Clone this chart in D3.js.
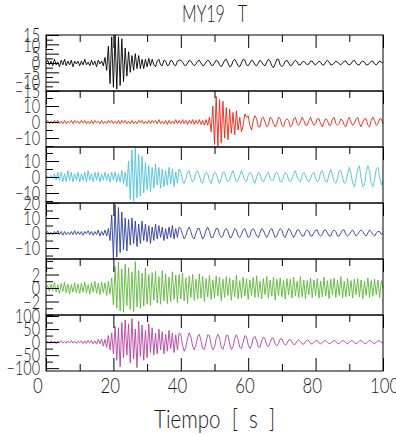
<!DOCTYPE html>
<html>
<head>
<meta charset="utf-8">
<script src="https://cdn.jsdelivr.net/npm/d3@7"></script>
<style>
body { margin: 0; background: #fff; }
text { font-family: Lato, "DejaVu Sans", sans-serif; font-weight: 300; fill: #1a1a1a; }
</style>
</head>
<body>
<svg width="396" height="435"></svg>
<script>
// sample interval of the traces (s)
var dt = 0.5;

var title = "MY19   T";
var xLabel = "Tiempo  [  s  ]";
var xTicks = [0, 20, 40, 60, 80, 100];

// amplitude of each trace, one value every 0.5 s from 0 to 100 s
var sismo1 = [
  0, 1.5, -1, 1, -1.5, 2, -1, 0.5, -2, 1.5, -1, 2, -1.5, 1, -1, 1.5, -2, 1, -0.5, 1,
  -1.5, 1, -1, 2, -1, 0.5, -1.5, 1.5, -1, 1, -2, 1.5, -0.5, 1, -1.5, 3, -4, 9, -11, 14,
  -13, 15, -14, 14, -12, 13, -10, 8, -7, 6, -5, 4, -4, 5, -3, 4, -3, 2, -3, 2,
  -2, 2.5, -1.5, 2, -1, -2, 1, 2, -1, -1.5, 1.5, 1, -1.5, -1, 1.5, 1, -1, -1.5, 1, 1.5,
  1.5, 0.5, -1, -1.5, 0, 1.5, 1, -0.5, -1.5, -0.5, 1, 1.5, 0, -1.5, -1, 0.5, 1.5, 1, -1, -1.5,
  0, 1.5, 1, -1, -2, -0.5, 1.5, 2, 0, -2, -1.5, 1, 2, 0.5, -1.5, -2, 0, 2, 1.5, -1,
  -1.5, 0, 1.5, 1, -1, -1.5, 0, 1.5, 0.5, -1, -1.5, 0.5, 2, 1, -1.5, -2.5, -0.5, 2, 2, -1,
  -2, -1, 1, 1.5, 0, -1.5, -1, 0.5, 1.5, 0.5, -1, -1, 0.5, 1, 0, -1, -0.5, 1, 1, -0.5,
  -1, 0, 1, 0.5, -1, -1, 0.5, 1.5, 0.5, -1, -1, 0, 1, 0.5, -0.5, -1, 0, 1, 1, -0.5,
  -1, -0.5, 1, 1.5, 0, -1, -1, 0.5, 1, 0.5, -1, -1, 0, 1, 1, -0.5, -1, 0, 1, 0.5,
  0
];
var sismo2 = [
  0, 1, -1, 0.5, -1, 1, -0.5, 1, -1, 0.5, -1, 1, -1, 0.5, -0.5, 1, -1, 1, -0.5, 0.5,
  -1, 1, -0.5, 1, -1, 0.5, -1, 1, -1, 1, -0.5, 0.5, -1, 1, -1, 0.5, -1, 1, -0.5, 1,
  -1, 0.5, -1, 1, -1, 1, -0.5, 1, -1, 0.5, -1, 1, -1, 0.5, -1, 1, -0.5, 1, -1, 0.5,
  -1, 1, -1, 1, -0.5, 1, -1, 1.5, -1, 0.5, -1, 1, -1.5, 1, -1, 0.5, -1, 1.5, -1, 1,
  -1, 1.5, -1, 1, -1.5, 1, -1, 1.5, -1.5, 1, -1, 1.5, -1.5, 1, -2, 1.5, -2, 3, -6, 10,
  -14, 16, -15, 14, -13, 13, -10, 9, -11, 8, -7, 6, -8, 7, -5, 3, -6, -2, 5, 3,
  4, -2, -5, 1, 4, 2, -3, -3, 2, 3, 0, -3, -2, 3, 2, -1, -3, -1, 3, 2,
  -2, -3, 1, 2, 1, -3, -2, 2, 3, -1, -2, 0, 3, 1, -2, -2, 1, 3, 0, -2,
  -1, 2, 2, -1, -3, 0, 2, 1, -2, -2, 2, 3, -1, -2, -1, 2, 1, -2, -3, 1,
  3, 0, -2, -1, 2, 3, -1, -3, 0, 2, 2, -2, -3, 1, 3, 1, -2, -1, 2, 2,
  -1
];
var sismo3 = [
  0, 0.5, -0.5, 1, -1, 2, -2, 3, -2, 3, -3, 2, -3, 4, -2, 3, -3, 2, -2, 3,
  -3, 2, -2, 3, -3, 4, -2, 2, -3, 3, -2, 3, -3, 2, -2, 3, -2, 2, -3, 3,
  -2, 3, -3, 2, -3, 4, -4, 3, -6, 10, -14, 17, -15, 18, -13, 14, -12, 13, -10, 9,
  -8, 7, -9, 6, -7, 8, -5, 6, -7, 5, -6, 4, -5, 6, -4, 5, -6, 3, -4, 5,
  3, -2, -4, -1, 3, 4, -1, -3, -2, 3, 4, 1, -3, -4, 1, 3, 2, -2, -4, 0,
  3, 2, -1, -4, -1, 3, 3, -1, -3, -2, 2, 4, 0, -3, -2, 1, 4, 1, -2, -3,
  1, 3, 2, -2, -4, 0, 3, 2, -2, -3, -1, 2, 3, -1, -2, -2, 2, 3, 1, -3,
  -3, 0, 3, 2, -2, -3, -1, 2, 4, 0, -2, -3, 1, 3, 1, -2, -3, -1, 2, 3,
  -1, -3, -2, 3, 4, 0, -3, -3, 2, 5, 1, -3, -4, -1, 4, 4, 0, -4, -3, 2,
  6, 2, -4, -6, -1, 5, 7, -1, -6, -5, 3, 7, 4, -4, -6, -2, 5, 6, 0, -5,
  -3
];
var sismo4 = [
  0, 1, -1, 0.5, -1, 1, -0.5, 1.5, -1, 1, -1.5, 1, -1, 0.5, -1, 1, -1, 1.5, -1, 1,
  -1, 1, -1.5, 1, -0.5, 1.5, -1, 1, -1.5, 1, -1, 2, -2, 1, -1.5, 2, -2, 3, -5, 12,
  -17, 19, -16, 17, -13, 14, -11, 10, -12, 9, -8, 10, -7, 8, -9, 6, -7, 8, -5, 6,
  -6, 5, -7, 4, -5, 6, -4, 5, -3, 4, -5, 3, -4, 4, -3, 5, -4, 3, -3, 4,
  3, -1, -4, -2, 2, 4, 1, -3, -4, 0, 3, 3, -1, -4, -2, 2, 4, 1, -3, -3,
  0, 3, 3, -1, -3, -2, 2, 3, 1, -3, -3, 0, 3, 2, -2, -3, -1, 2, 3, 0,
  -3, -2, 2, 3, 1, -2, -3, 0, 3, 2, -1, -3, -1, 2, 3, 0, -3, -2, 1, 3,
  2, -2, -3, 0, 3, 2, -1, -3, -1, 2, 2, 0, -2, -2, 1, 2, 1, -2, -2, 0,
  2, 2, -1, -2, -1, 2, 2, 0, -2, -2, 1, 2, 1, -2, -2, 0, 2, 2, -1, -2,
  -1, 1, 2, 0, -2, -1, 1, 2, 1, -1, -2, 0, 2, 1, -1, -2, 0, 1, 1, -1,
  0
];
var sismo5 = [
  0, 0.4, -0.5, 0.6, -0.4, 0.8, -0.6, 0.5, -0.8, 0.7, -0.5, 0.9, -0.7, 0.6, -0.9, 0.5, -0.6, 0.8, -0.7, 0.6,
  -0.8, 0.7, -0.6, 0.9, -0.7, 0.5, -0.9, 0.8, -0.6, 1.0, -0.8, 0.7, -1.0, 0.9, -0.7, 0.8, -1.1, 1.0, -0.9, 1.5,
  -2.5, 3.2, -3.0, 3.8, -3.4, 2.8, -3.6, 3.5, -2.6, 3.0, -3.2, 2.4, -3.5, 3.9, -2.8, 2.6, -3.0, 2.2, -2.7, 3.0,
  -2.4, 2.0, -2.6, 2.3, -1.8, 2.5, -2.2, 1.7, -2.4, 2.6, -1.9, 2.1, -2.3, 1.6, -2.0, 2.4, -1.7, 1.9, -2.2, 2.0,
  -1.6, 2.2, -1.9, 1.5, -2.3, 1.8, -1.4, 2.0, -1.8, 1.3, -1.6, 2.1, -1.5, 1.7, -2.0, 1.4, -1.3, 1.9, -1.7, 1.2,
  -1.5, 1.8, -1.2, 1.6, -1.9, 1.3, -1.4, 1.7, -1.1, 1.5, -1.8, 1.2, -1.3, 1.9, -1.6, 1.1, -1.5, 1.6, -1.2, 1.4,
  -1.7, 1.2, -1.1, 1.5, -1.4, 1.8, -1.3, 1.0, -1.6, 1.4, -1.0, 1.7, -1.5, 1.2, -1.2, 1.6, -1.8, 1.3, -1.1, 1.5,
  -1.3, 1.1, -1.6, 1.4, -1.0, 1.3, -1.5, 1.6, -1.2, 1.0, -1.4, 1.7, -1.3, 1.2, -1.6, 1.1, -1.0, 1.5, -1.4, 1.2,
  -1.1, 1.4, -1.5, 1.0, -1.3, 1.6, -1.2, 1.1, -1.6, 1.3, -1.0, 1.5, -1.4, 1.2, -1.1, 1.7, -1.5, 1.0, -1.3, 1.4,
  -1.2, 1.1, -1.5, 1.3, -1.0, 1.4, -1.3, 1.2, -1.6, 1.0, -1.1, 1.5, -1.4, 1.1, -1.2, 1.3, -1.0, 1.2, -1.4, 1.1,
  0
];
var sismo6 = [
  0, 3, -4, 5, -3, 4, -5, 3, -2, 5, -4, 3, -5, 4, -3, 6, -4, 3, -5, 4,
  -3, 5, -6, 4, -5, 7, -4, 6, -7, 5, -8, 10, -6, 12, -15, 10, -20, 25, -30, 35,
  -45, 60, -70, 55, -95, 75, -60, 85, -50, 70, -80, 90, -65, 50, -98, 80, -55, 65, -70, 45,
  -60, 70, -40, 55, -50, 35, -45, 50, -30, 40, -45, 30, -35, 45, -25, 35, -40, 28, -30, 35,
  30, -10, -35, -20, 15, 35, 20, -15, -30, -10, 20, 30, 5, -25, -28, 0, 28, 25, -10, -30,
  -20, 15, 30, 15, -20, -28, -5, 25, 25, -5, -28, -18, 15, 28, 10, -20, -25, 0, 25, 20,
  -10, -25, -12, 15, 22, 5, -18, -20, 5, 20, 12, -12, -18, -2, 15, 14, -8, -15, -5, 12,
  12, -4, -12, -6, 8, 10, 0, -10, -8, 4, 9, 3, -7, -8, 2, 8, 5, -5, -8, -1,
  6, 6, -3, -7, -2, 5, 6, -1, -6, -4, 3, 6, 2, -5, -5, 1, 6, 4, -3, -6,
  -1, 5, 5, -2, -6, -3, 4, 6, 1, -5, -5, 1, 6, 4, -3, -6, -1, 5, 5, -2,
  -3
];

// y tick labels of each panel
var yLabels1 = [15, 10, 5, 0, -5, -10, -15];
var yLabels2 = [10, 0, -10];
var yLabels3 = [10, 0, -10];
var yLabels4 = [20, 10, 0, -10];
var yLabels5 = [2, 0, -2];
var yLabels6 = [100, 50, 0, -50, -100];

var panels = [
  {data: sismo1, color: "#000000", domain: [-15, 15], labels: yLabels1, minor: 2.5},
  {data: sismo2, color: "#ec2211", domain: [-15.6, 19.4], labels: yLabels2, minor: 5},
  {data: sismo3, color: "#4cc2d8", domain: [-16.25, 18.75], labels: yLabels3, minor: 5},
  {data: sismo4, color: "#2e3f9c", domain: [-17.3, 20], labels: yLabels4, minor: 5},
  {data: sismo5, color: "#5eb83a", domain: [-4, 4.3], labels: yLabels5, minor: 1},
  {data: sismo6, color: "#b4429e", domain: [-111, 104], labels: yLabels6, minor: 25}
];

var svg = d3.select("svg"),
    margin = {top: 35, right: 13, bottom: 64, left: 46},
    width = 396 - margin.left - margin.right,
    height = 435 - margin.top - margin.bottom,
    panelH = height / panels.length,
    g = svg.append("g").attr("transform", "translate(" + margin.left + "," + margin.top + ")");

var x = d3.scaleLinear().domain([0, 100]).range([0, width]);

var xMinor = [10, 30, 50, 70, 90];
var squeeze = 0.72;  // the labels use a tall, narrow lettering

function fmt(d) { return d < 0 ? "\u2212" + (-d) : "" + d; }

panels.forEach(function(p, i) {
    var y = d3.scaleLinear().domain(p.domain).range([panelH, 0]);
    var pg = g.append("g").attr("transform", "translate(0," + (i * panelH) + ")");

    var line = d3.line()
        .x(function(d, k) { return x(k * dt); })
        .y(function(d) { return y(d); });

    pg.append("path")
        .datum(p.data)
        .attr("fill", "none")
        .attr("stroke", p.color)
        .attr("stroke-width", 0.9)
        .attr("stroke-linejoin", "round")
        .attr("d", line);

    // minor y ticks
    var minorTicks = d3.range(Math.ceil(p.domain[0] / p.minor) * p.minor, p.domain[1] + 1e-9, p.minor)
        .filter(function(v) { return p.labels.indexOf(v) < 0; });
    pg.append("g")
        .call(d3.axisRight(y).tickValues(minorTicks).tickSize(7).tickFormat(""));
    pg.append("g")
        .call(d3.axisRight(y).tickValues(p.labels).tickSize(13).tickFormat(""));

    // top ticks of the panel
    pg.append("g")
        .call(d3.axisBottom(x).tickValues(xMinor).tickSize(7).tickFormat(""));
    pg.append("g")
        .call(d3.axisBottom(x).tickValues(xTicks).tickSize(13).tickFormat(""));

    if (i == panels.length - 1) {
        pg.append("g")
            .attr("transform", "translate(0," + panelH + ")")
            .call(d3.axisTop(x).tickValues(xMinor).tickSize(7).tickFormat(""));
        pg.append("g")
            .attr("transform", "translate(0," + panelH + ")")
            .call(d3.axisTop(x).tickValues(xTicks).tickSize(13).tickFormat(""));
    }

    pg.append("rect")
        .attr("width", width)
        .attr("height", panelH)
        .attr("fill", "none")
        .attr("stroke", "#000")
        .attr("stroke-width", 1);

    pg.selectAll(".ylab")
        .data(p.labels)
        .enter().append("text")
        .attr("class", "ylab")
        .attr("transform", function(d) { return "translate(-6," + y(d) + ") scale(" + squeeze + ",1)"; })
        .attr("dy", "0.36em")
        .attr("text-anchor", "end")
        .style("font-size", "20px")
        .text(fmt);
});

g.selectAll(".domain").remove();
g.selectAll(".tick line").attr("stroke", "#000");

// x tick labels
g.selectAll(".xlab")
    .data(xTicks)
    .enter().append("text")
    .attr("class", "xlab")
    .attr("transform", function(d) { return "translate(" + (x(d) - 13) + "," + (height + 22) + ") scale(0.8,1)"; })
    .style("font-size", "21px")
    .text(fmt);

// title and axis label
svg.append("text")
    .attr("x", 182)
    .attr("y", 22)
    .attr("textLength", 65)
    .attr("lengthAdjust", "spacingAndGlyphs")
    .attr("xml:space", "preserve")
    .style("font-size", "24px")
    .style("white-space", "pre")
    .text(title);

svg.append("text")
    .attr("x", 154)
    .attr("y", 428)
    .attr("textLength", 121)
    .attr("lengthAdjust", "spacingAndGlyphs")
    .attr("xml:space", "preserve")
    .style("font-size", "25px")
    .style("white-space", "pre")
    .text(xLabel);
</script>
</body>
</html>
